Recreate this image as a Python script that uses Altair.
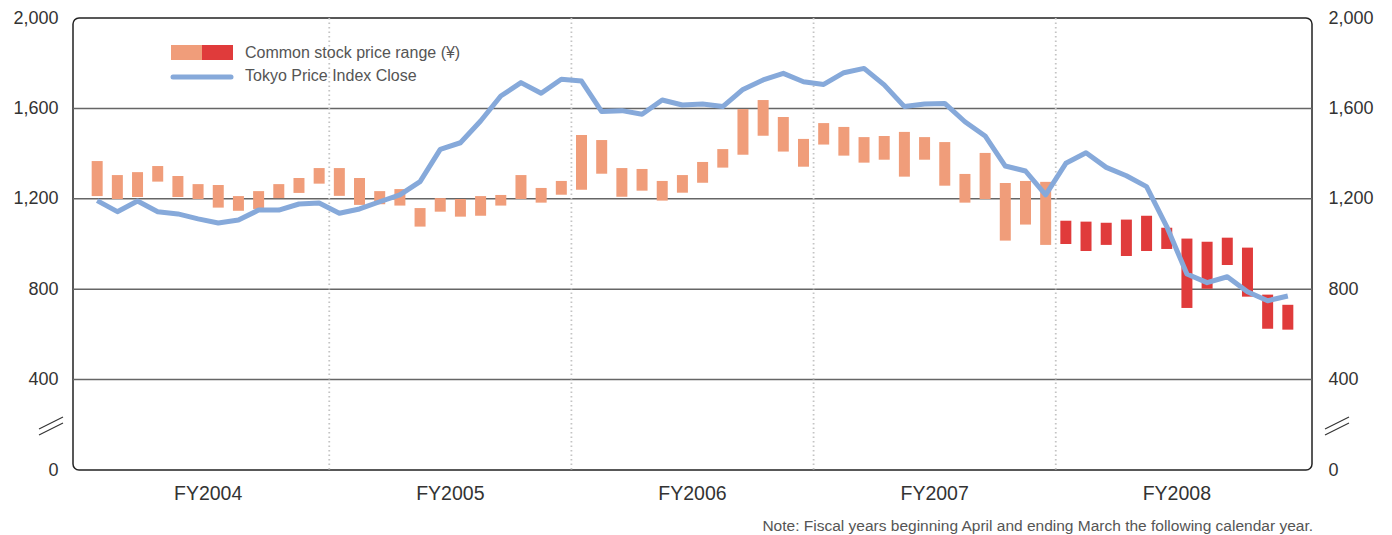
import altair as alt
import pandas as pd

# ---------------- data ----------------
month_index = list(range(60))  # Apr 2004 ... Mar 2009
price_high = [1367, 1305, 1318, 1345, 1301, 1265, 1261, 1212, 1234, 1265, 1292, 1336,
              1336, 1292, 1234, 1243, 1159, 1203, 1199, 1212, 1217, 1305, 1248, 1279,
              1482, 1460, 1336, 1332, 1279, 1305, 1363, 1420, 1597, 1637, 1562, 1465,
              1535, 1518, 1473, 1478, 1496, 1473, 1451, 1310, 1403, 1270, 1279, 1275,
              1103, 1099, 1094, 1108, 1125, 1072, 1024, 1010, 1028, 984, 776, 731]
price_low = [1212, 1199, 1208, 1276, 1208, 1199, 1161, 1147, 1155, 1203, 1226, 1267,
             1213, 1173, 1176, 1170, 1077, 1143, 1121, 1125, 1170, 1199, 1183, 1218,
             1240, 1311, 1209, 1236, 1192, 1227, 1271, 1338, 1395, 1479, 1409, 1342,
             1440, 1391, 1360, 1373, 1298, 1373, 1258, 1183, 1199, 1015, 1086, 996,
             1000, 969, 996, 947, 969, 978, 717, 802, 907, 767, 625, 621]
topix_close = [1192, 1143, 1190, 1143, 1133, 1111, 1093, 1106, 1150, 1150, 1177, 1181,
               1136, 1155, 1187, 1217, 1276, 1419, 1448, 1544, 1655, 1714, 1667, 1729,
               1721, 1586, 1590, 1574, 1637, 1615, 1619, 1608, 1684, 1726, 1755, 1718,
               1706, 1758, 1777, 1704, 1608, 1619, 1622, 1541, 1478, 1345, 1323, 1217,
               1357, 1404, 1339, 1302, 1254, 1077, 867, 829, 855, 789, 749, 770]
fiscal_years = ["FY2004", "FY2005", "FY2006", "FY2007", "FY2008"]
fy_centers = [5.5, 17.5, 29.5, 41.5, 53.5]
fy_boundaries = [11.5, 23.5, 35.5, 47.5]
grid_values = [400, 800, 1200, 1600]
y_ticks = [0, 400, 800, 1200, 1600, 2000]
legend_labels = ["Common stock price range (\u00a5)", "Tokyo Price Index Close"]
note_text = "Note: Fiscal years beginning April and ending March the following calendar year."

# ---------------- styling ----------------
W, H = 1239, 452
FONT = "Liberation Sans"
SALMON = "#F09D7A"
RED = "#E03B3B"
BLUE = "#86A9DA"

period = ["FY2008" if i >= 48 else "FY2004-2007" for i in month_index]
df = pd.DataFrame({"m": month_index, "high": price_high, "low": price_low,
                   "close": topix_close, "period": period})
fy_df = pd.DataFrame({"fy": fiscal_years, "center": fy_centers})
bound_df = pd.DataFrame({"b": fy_boundaries})
grid_df = pd.DataFrame({"g": grid_values})
one = pd.DataFrame({"a": [0]})

x_scale = alt.Scale(domain=[-0.95, 59.95], nice=False, zero=False)
y_scale = alt.Scale(domain=[0, 2000], nice=False, zero=False)

left_axis = alt.Axis(values=y_ticks, format=",.0f", orient="left", grid=False, domain=False,
                     ticks=False, labelPadding=15, title=None)
right_axis = alt.Axis(values=y_ticks, format=",.0f", orient="right", grid=False, domain=False,
                      ticks=False, labelPadding=16, title=None)

grid = alt.Chart(grid_df).mark_rule(color="#666", strokeWidth=1.5).encode(
    y=alt.Y("g:Q", scale=y_scale, axis=left_axis)
)
bounds = alt.Chart(bound_df).mark_rule(color="#c4c4c4", strokeWidth=1.8, strokeDash=[1.5, 3]).encode(
    x=alt.X("b:Q", scale=x_scale, axis=None)
)
bars = alt.Chart(df).mark_bar(size=11).encode(
    x=alt.X("m:Q", scale=x_scale, axis=None),
    y=alt.Y("low:Q", scale=y_scale, axis=left_axis),
    y2="high:Q",
    color=alt.Color("period:N", scale=alt.Scale(domain=["FY2004-2007", "FY2008"],
                                                range=[SALMON, RED]), legend=None),
)
line = alt.Chart(df).mark_line(color=BLUE, strokeWidth=5, strokeJoin="round").encode(
    x=alt.X("m:Q", scale=x_scale, axis=None),
    y=alt.Y("close:Q", scale=y_scale, axis=left_axis),
)
left_layer = alt.layer(grid, bounds, bars, line)

right_layer = alt.Chart(df).mark_point(opacity=0).encode(
    x=alt.X("m:Q", scale=x_scale, axis=None),
    y=alt.Y("close:Q", scale=y_scale, axis=right_axis),
)

fy_text = alt.Chart(fy_df).mark_text(font=FONT, fontSize=19.5, color="#333", baseline="middle").encode(
    x=alt.X("center:Q", scale=x_scale, axis=None),
    y=alt.value(H + 24),
    text="fy:N",
)

# legend (decoration)
leg_rect1 = alt.Chart(one).mark_rect(color=SALMON).encode(
    x=alt.value(98), x2=alt.value(129), y=alt.value(27), y2=alt.value(42))
leg_rect2 = alt.Chart(one).mark_rect(color=RED).encode(
    x=alt.value(129), x2=alt.value(160), y=alt.value(27), y2=alt.value(42))
leg_line = alt.Chart(one).mark_rule(color=BLUE, strokeWidth=5, strokeCap="round").encode(
    x=alt.value(100), x2=alt.value(158), y=alt.value(59), y2=alt.value(59))
leg_t1 = alt.Chart(one).mark_text(font=FONT, fontSize=16, color="#555", align="left",
                                  baseline="middle", text=legend_labels[0]).encode(
    x=alt.value(172), y=alt.value(35))
leg_t2 = alt.Chart(one).mark_text(font=FONT, fontSize=16, color="#555", align="left",
                                  baseline="middle", text=legend_labels[1]).encode(
    x=alt.value(172), y=alt.value(58))

note = alt.Chart(one).mark_text(font=FONT, fontSize=15.5, color="#555", align="right",
                                baseline="middle", text=note_text).encode(
    x=alt.value(W + 1), y=alt.value(H + 56))

# axis-break marks
breaks = []
for bx in (-34, W + 13):
    for dy in (0, 6):
        breaks.append(
            alt.Chart(one).mark_rule(color="#333", strokeWidth=1.2).encode(
                x=alt.value(bx), x2=alt.value(bx + 24),
                y=alt.value(411 + dy), y2=alt.value(399 + dy))
        )

chart = alt.layer(
    left_layer, right_layer, fy_text, leg_rect1, leg_rect2, leg_line, leg_t1, leg_t2, note, *breaks
).resolve_scale(y="independent").properties(
    width=W, height=H,
    autosize=alt.AutoSizeParams(type="none"),
    padding={"left": 73, "top": 18, "right": 80, "bottom": 65},
).configure_view(
    stroke="#222", strokeWidth=1.5, cornerRadius=6
).configure_axis(
    labelFont=FONT, labelFontSize=18, labelColor="#333"
)

chart.save("out.html", embed_options={"renderer": "svg", "actions": False})
